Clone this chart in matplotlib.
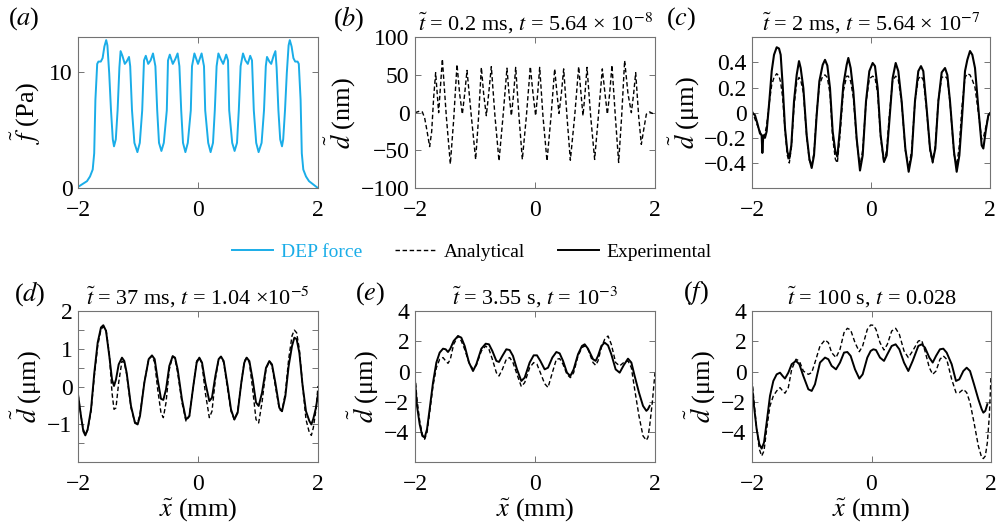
import numpy as np
import matplotlib
matplotlib.use('Agg')
import matplotlib.pyplot as plt
from matplotlib.lines import Line2D

plt.rcParams['font.family'] = ['Liberation Serif', 'DejaVu Serif']
plt.rcParams['mathtext.fontset'] = 'stix'
plt.rcParams['font.size'] = 14

nan = np.nan

# ---------------------------------------------------------------- data
# (a) DEP force, Pa
x_a = [-2.0, -1.85, -1.80, -1.755, -1.73, -1.71, -1.68, -1.66, -1.62, -1.59,
       -1.56, -1.53, -1.51, -1.48, -1.45, -1.42, -1.40, -1.37, -1.34, -1.31,
       -1.29, -1.26, -1.22, -1.19, -1.15, -1.13, -1.10, -1.06, -1.01, -0.97,
       -0.93, -0.90, -0.87, -0.83, -0.79, -0.75, -0.71, -0.68, -0.65, -0.61,
       -0.57, -0.52, -0.50, -0.47, -0.42, -0.38, -0.34, -0.31, -0.28, -0.25,
       -0.21, -0.17, -0.12, -0.10, -0.06, 0.0, 0.06, 0.10, 0.12, 0.17,
       0.21, 0.25, 0.28, 0.31, 0.34, 0.38, 0.42, 0.47, 0.50, 0.52,
       0.57, 0.61, 0.65, 0.68, 0.71, 0.75, 0.79, 0.83, 0.87, 0.90,
       0.93, 0.97, 1.01, 1.06, 1.10, 1.13, 1.15, 1.19, 1.22, 1.26,
       1.29, 1.31, 1.34, 1.37, 1.40, 1.42, 1.45, 1.48, 1.51, 1.53,
       1.56, 1.59, 1.62, 1.66, 1.68, 1.71, 1.73, 1.755, 1.80, 1.85, 2.0]
f_dep = [0.1, 0.6, 1.0, 1.6, 3.0, 7.6, 10.7, 10.9, 10.9, 11.2,
         12.2, 12.75, 12.3, 9.9, 6.7, 4.2, 3.6, 4.2, 6.7, 10.4,
         11.8, 11.4, 10.7, 10.9, 11.3, 10.5, 6.7, 3.9, 3.1, 3.9,
         6.7, 11.0, 11.4, 10.7, 11.0, 11.6, 10.5, 6.7, 3.9, 3.2,
         3.9, 6.7, 11.0, 11.5, 10.7, 11.1, 11.6, 10.5, 6.7, 3.9,
         3.1, 3.9, 6.7, 10.5, 11.6, 10.7, 11.6, 10.5, 6.7, 3.9,
         3.1, 3.9, 6.7, 10.5, 11.6, 11.1, 10.7, 11.5, 11.0, 6.7,
         3.9, 3.2, 3.9, 6.7, 10.5, 11.6, 11.0, 10.7, 11.4, 11.0,
         6.7, 3.9, 3.1, 3.9, 6.7, 10.5, 11.3, 10.9, 10.7, 11.4,
         11.8, 10.4, 6.7, 4.2, 3.6, 4.2, 6.7, 9.9, 12.3, 12.75,
         12.2, 11.2, 10.9, 10.9, 10.7, 7.6, 3.0, 1.6, 1.0, 0.6, 0.0]

# (b) analytical, nm
x_b = [-2.000, -1.922, -1.878, -1.839, -1.800, -1.756, -1.722, -1.689, -1.656, -1.606,
       -1.544, -1.478, -1.411, -1.356, -1.300, -1.256, -1.211, -1.172, -1.133, -1.061,
       -0.989, -0.944, -0.894, -0.856, -0.811, -0.772, -0.728, -0.667, -0.600, -0.533,
       -0.467, -0.433, -0.394, -0.356, -0.322, -0.267, -0.211, -0.144, -0.078, -0.033,
       0.011, 0.044, 0.078, 0.133, 0.200, 0.267, 0.328, 0.367, 0.400, 0.439,
       0.478, 0.533, 0.589, 0.661, 0.728, 0.767, 0.800, 0.833, 0.867, 0.928,
       0.994, 1.056, 1.122, 1.167, 1.206, 1.244, 1.283, 1.339, 1.394, 1.444,
       1.494, 1.550, 1.606, 1.644, 1.678, 1.728, 1.772, 1.817, 1.856, 1.911,
       1.956, 2.000]
d_b_ana = [0, 2, 1, -7, -24, -45, -25, 20, 53, 0,
           71, -5, -68, -10, 64, 25, -2, 25, 56, -5,
           -62, -10, 60, 25, -4, 25, 61, -5, -64, -5,
           59, 25, -4, 25, 60, -5, -62, -5, 61, 25,
           -4, 25, 60, -5, -64, -5, 58, 25, -1, 25,
           58, -5, -63, -5, 61, 25, -4, 25, 60, -5,
           -62, -5, 58, 25, -2, 25, 63, -5, -66, -5,
           69, 25, 0, 25, 53, -5, -42, -20, -2, 1,
           -1, 0]

# (c) um
x_c = [-2.000, -1.950, -1.910, -1.866, -1.838, -1.826, -1.810, -1.782, -1.754, -1.709,
       -1.669, -1.630, -1.585, -1.546, -1.518, -1.485, -1.445, -1.406, -1.373, -1.339,
       -1.294, -1.249, -1.210, -1.182, -1.137, -1.081, -1.036, -0.997, -0.958, -0.913,
       -0.868, -0.812, -0.773, -0.734, -0.689, -0.644, -0.599, -0.566, -0.521, -0.465,
       -0.409, -0.381, -0.342, -0.297, -0.241, -0.185, -0.140, -0.084, -0.028, 0.028,
       0.067, 0.112, 0.162, 0.218, 0.263, 0.308, 0.364, 0.415, 0.459, 0.515,
       0.577, 0.633, 0.683, 0.739, 0.795, 0.840, 0.879, 0.935, 0.992, 1.036,
       1.081, 1.132, 1.188, 1.244, 1.283, 1.328, 1.395, 1.440, 1.485, 1.529,
       1.580, 1.619, 1.664, 1.703, 1.748, 1.804, 1.860, 1.888, 1.927, 1.972,
       2.000]
d_c_exp = [0.00, -0.02, -0.085, -0.165, -0.18, -0.32, -0.18, -0.20, -0.15, 0.09,
           0.33, 0.46, 0.52, 0.51, 0.46, 0.22, -0.125, -0.31, -0.365, -0.26,
           0.09, 0.30, 0.41, 0.355, 0.195, -0.18, -0.365, -0.44, -0.34, -0.02,
           0.25, 0.38, 0.42, 0.375, 0.195, -0.15, -0.31, -0.35, -0.125, 0.22,
           0.38, 0.435, 0.355, 0.17, -0.205, -0.46, -0.34, 0.09, 0.33, 0.395,
           0.37, 0.195, -0.18, -0.39, -0.34, -0.07, 0.275, 0.395, 0.33, 0.09,
           -0.285, -0.47, -0.34, 0.09, 0.33, 0.37, 0.33, 0.035, -0.285, -0.39,
           -0.285, 0.09, 0.32, 0.355, 0.30, 0.09, -0.31, -0.47, -0.34, -0.045,
           0.33, 0.42, 0.49, 0.46, 0.355, 0.035, -0.26, -0.285, -0.15, -0.02,
           -0.005]
d_c_ana = [0.02, -0.05, -0.10, -0.15, -0.18, -0.19, -0.19, -0.17, -0.10, 0.08,
           0.22, 0.28, 0.31, 0.29, 0.24, 0.12, -0.14, -0.34, -0.40, -0.28,
           0.05, 0.24, 0.28, 0.26, 0.16, -0.19, -0.38, -0.42, -0.32, 0.00,
           0.22, 0.29, 0.30, 0.28, 0.15, -0.20, -0.37, -0.40, -0.18, 0.17,
           0.29, 0.29, 0.25, 0.12, -0.22, -0.43, -0.30, 0.08, 0.27, 0.29,
           0.28, 0.15, -0.20, -0.40, -0.30, -0.02, 0.26, 0.29, 0.26, 0.08,
           -0.30, -0.44, -0.30, 0.09, 0.27, 0.29, 0.26, 0.02, -0.30, -0.40,
           -0.26, 0.10, 0.28, 0.29, 0.27, 0.08, -0.33, -0.42, -0.26, 0.05,
           0.28, 0.31, 0.30, 0.26, 0.20, 0.00, -0.21, -0.20, -0.12, -0.03,
           0.00]

# (d) um
x_d = [-2.000, -1.950, -1.911, -1.878, -1.839, -1.783, -1.728, -1.672, -1.617, -1.578,
       -1.533, -1.478, -1.433, -1.400, -1.367, -1.322, -1.267, -1.228, -1.189, -1.117,
       -1.050, -1.006, -0.967, -0.894, -0.822, -0.767, -0.722, -0.672, -0.617, -0.578,
       -0.533, -0.478, -0.422, -0.383, -0.339, -0.267, -0.200, -0.144, -0.078, -0.022,
       0.022, 0.067, 0.122, 0.189, 0.233, 0.289, 0.344, 0.383, 0.428, 0.494,
       0.550, 0.606, 0.661, 0.722, 0.772, 0.811, 0.856, 0.911, 0.967, 1.011,
       1.067, 1.133, 1.189, 1.233, 1.289, 1.356, 1.400, 1.456, 1.511, 1.567,
       1.606, 1.644, 1.689, 1.744, 1.800, 1.856, 1.889, 1.922, 1.967, 2.000]
d_d_exp = [-0.20, -0.78, -1.18, -1.29, -1.13, -0.60, 0.37, 1.17, 1.57, 1.63,
           1.48, 0.81, 0.19, 0.02, 0.19, 0.59, 0.77, 0.68, 0.37, -0.51,
           -0.96, -1.00, -0.78, 0.11, 0.73, 0.83, 0.73, 0.19, -0.32, -0.35,
           -0.07, 0.55, 0.81, 0.77, 0.46, -0.34, -0.87, -0.78, 0.02, 0.64,
           0.77, 0.64, 0.11, -0.38, -0.29, 0.28, 0.73, 0.80, 0.68, 0.02,
           -0.60, -0.87, -0.69, 0.11, 0.64, 0.77, 0.68, 0.19, -0.42, -0.51,
           -0.16, 0.50, 0.68, 0.59, 0.11, -0.56, -0.65, -0.25, 0.55, 1.08,
           1.30, 1.26, 0.90, 0.02, -0.65, -0.91, -1.00, -0.85, -0.55, -0.20]
d_d_ana = [-0.20, -0.78, -1.13, -1.27, -1.15, -0.65, 0.28, 1.08, 1.52, 1.59,
           1.52, 0.86, -0.16, -0.60, -0.56, 0.11, 0.68, 0.64, 0.33, -0.56,
           -0.96, -0.96, -0.73, 0.11, 0.74, 0.81, 0.64, -0.07, -0.69, -0.82,
           -0.42, 0.46, 0.81, 0.74, 0.37, -0.42, -0.91, -0.78, 0.02, 0.68,
           0.77, 0.59, -0.16, -0.82, -0.65, 0.19, 0.73, 0.80, 0.64, -0.07,
           -0.65, -0.87, -0.65, 0.11, 0.68, 0.77, 0.64, -0.07, -0.87, -0.96,
           -0.42, 0.46, 0.68, 0.55, 0.02, -0.60, -0.65, -0.16, 0.73, 1.35,
           1.50, 1.43, 0.99, 0.02, -0.87, -1.22, -1.29, -1.09, -0.60, 0.02]

# (e) um
x_e = [-2.000, -1.967, -1.922, -1.878, -1.839, -1.800, -1.756, -1.700, -1.644, -1.589,
       -1.533, -1.489, -1.450, -1.411, -1.356, -1.283, -1.228, -1.172, -1.100, -1.033,
       -0.978, -0.894, -0.822, -0.767, -0.711, -0.644, -0.600, -0.544, -0.478, -0.422,
       -0.367, -0.300, -0.228, -0.172, -0.089, -0.022, 0.033, 0.089, 0.161, 0.217,
       0.289, 0.356, 0.411, 0.467, 0.533, 0.589, 0.644, 0.717, 0.783, 0.828,
       0.883, 0.967, 1.011, 1.050, 1.106, 1.161, 1.217, 1.272, 1.344, 1.411,
       1.478, 1.550, 1.606, 1.661, 1.733, 1.800, 1.856, 1.883, 1.911, 1.956,
       2.000]
d_e_exp = [-0.60, -2.27, -3.49, -4.26, -4.37, -3.82, -2.49, -0.73, 0.60, 1.26,
           1.52, 1.48, 1.30, 1.52, 2.03, 2.36, 2.25, 1.70, 0.60, 0.04,
           0.49, 1.52, 1.85, 1.81, 1.37, 0.71, 0.64, 1.04, 1.48, 1.43,
           1.04, 0.15, -0.62, -0.40, 0.60, 1.08, 1.08, 0.71, 0.15, 0.26,
           0.93, 1.30, 1.21, 0.71, -0.07, -0.29, 0.15, 1.15, 1.70, 1.81,
           1.52, 0.82, 0.71, 1.04, 1.70, 1.92, 1.74, 1.15, 0.15, -0.07,
           0.42, 0.86, 0.60, -0.29, -1.39, -2.27, -2.60, -2.49, -2.27, nan,
           nan]
d_e_ana = [-0.29, -1.83, -3.27, -4.15, -4.48, -4.04, -2.72, -0.95, 0.26, 0.82,
           0.93, 0.71, 0.55, 0.82, 1.81, 2.36, 2.03, 1.48, 0.60, 0.15,
           0.42, 1.37, 1.70, 1.48, 0.82, -0.07, -0.29, 0.15, 0.82, 0.93,
           0.60, -0.18, -0.99, -0.73, 0.26, 0.60, 0.49, -0.07, -0.80, -1.05,
           -0.07, 0.82, 0.86, 0.49, -0.18, -0.40, -0.07, 1.04, 1.59, 1.70,
           1.48, 0.60, 0.42, 0.71, 1.59, 2.14, 2.36, 1.81, 0.60, 0.38,
           0.60, 0.71, 0.26, -1.17, -2.94, -4.26, -4.55, -4.35, -3.60, -2.00,
           -0.07]

# (f) um
x_f = [-2.000, -1.967, -1.922, -1.877, -1.838, -1.799, -1.755, -1.699, -1.643, -1.587,
       -1.531, -1.487, -1.448, -1.392, -1.336, -1.264, -1.208, -1.141, -1.057, -1.001,
       -0.946, -0.862, -0.778, -0.722, -0.667, -0.594, -0.527, -0.460, -0.404, -0.349,
       -0.276, -0.204, -0.148, -0.070, -0.014, 0.031, 0.075, 0.142, 0.209, 0.265,
       0.338, 0.404, 0.466, 0.544, 0.616, 0.689, 0.784, 0.840, 0.895, 0.968,
       1.024, 1.080, 1.146, 1.202, 1.258, 1.342, 1.414, 1.470, 1.537, 1.593,
       1.649, 1.716, 1.788, 1.844, 1.872, 1.905, 1.939, 1.972, 2.000]
d_f_exp = [-0.95, -2.27, -3.82, -4.81, -5.10, -4.70, -3.38, -1.61, -0.62, -0.18,
           -0.07, -0.29, -0.46, -0.07, 0.49, 0.71, 0.49, -0.29, -1.17, -1.28,
           -0.84, 0.60, 0.93, 0.82, 0.38, 0.15, 0.60, 1.26, 1.30, 1.04,
           0.15, -0.46, -0.18, 0.93, 1.37, 1.48, 1.43, 0.93, 0.71, 1.15,
           1.70, 1.81, 1.48, 0.60, 0.04, 0.71, 1.70, 1.81, 1.59, 0.93,
           0.60, 1.04, 1.48, 1.52, 1.26, 0.49, -0.62, -0.51, 0.04, 0.26,
           0.04, -0.84, -1.83, -2.49, -2.72, -2.60, -2.16, nan, nan]
d_f_ana = [-0.51, -1.94, -3.82, -5.14, -5.59, -5.25, -3.82, -2.27, -1.61, -1.28,
           -1.06, -1.28, -1.43, -1.06, 0.15, 0.82, 0.71, 0.04, -0.18, -0.07,
           0.60, 1.70, 2.10, 1.92, 1.26, 0.93, 1.48, 2.58, 2.87, 2.76,
           1.92, 1.32, 1.70, 2.80, 3.09, 3.07, 2.80, 1.92, 1.43, 1.81,
           2.69, 2.87, 2.47, 1.37, 0.93, 1.37, 2.03, 2.08, 1.37, 0.26,
           -0.18, 0.04, 0.82, 1.04, 0.82, -0.51, -1.39, -1.39, -1.17, -1.39,
           -2.05, -3.38, -4.92, -5.70, -5.76, -5.59, -4.70, -2.94, -0.29]

titles = [None,
          r'$\tilde{t}$ = 0.2 ms, $t$ = 5.64 × 10$^{-8}$',
          r'$\tilde{t}$ = 2 ms, $t$ = 5.64 × 10$^{-7}$',
          r'$\tilde{t}$ = 37 ms, $t$ = 1.04 ×10$^{-5}$',
          r'$\tilde{t}$ = 3.55 s, $t$ = 10$^{-3}$',
          r'$\tilde{t}$ = 100 s, $t$ = 0.028']
tags = ['a', 'b', 'c', 'd', 'e', 'f']

# ---------------------------------------------------------------- style
DEP_BLUE = '#1AADE8'
SPINE = '0.45'
DASH = (0, (3.2, 1.9))
TICK_FS = 17
LABEL_FS = 19

fig = plt.figure(figsize=(10, 5.24), dpi=100)

boxes = [(0.078, 0.641, 0.240, 0.288), (0.415, 0.641, 0.240, 0.288), (0.752, 0.641, 0.238, 0.288),
         (0.078, 0.118, 0.240, 0.288), (0.415, 0.118, 0.240, 0.288), (0.752, 0.118, 0.239, 0.288)]
axs = [fig.add_axes(b) for b in boxes]

for ax in axs:
    ax.set_xlim(-2, 2)
    ax.set_xticks([-2, 0, 2])
    ax.tick_params(direction='in', top=True, right=True, length=4, width=0.7,
                   color=SPINE, labelsize=TICK_FS)
    ax.tick_params(axis='y', pad=4)
    ax.tick_params(axis='x', pad=8.5)
    ax.tick_params(which='minor', direction='in', top=True, right=True,
                   length=4, width=0.7, color=SPINE)
    for s in ax.spines.values():
        s.set_color(SPINE)
        s.set_linewidth(0.8)

# (a)
axs[0].plot(x_a, f_dep, color=DEP_BLUE, lw=1.4)
axs[0].set_ylim(0, 13)
axs[0].set_yticks([0, 10])
axs[0].set_ylabel(r'$\tilde{f}$ (Pa)', fontsize=LABEL_FS, labelpad=4)

# (b)
axs[1].plot(x_b, d_b_ana, color='k', lw=1.0, ls=DASH)
axs[1].set_ylim(-100, 100)
axs[1].set_yticks([-100, -50, 0, 50, 100])
axs[1].set_ylabel(r'$\tilde{d}$ (nm)', fontsize=LABEL_FS, labelpad=2)

# (c)
axs[2].plot(x_c, d_c_ana, color='k', lw=1.0, ls=DASH)
axs[2].plot(x_c, d_c_exp, color='k', lw=1.5)
axs[2].set_ylim(-0.6, 0.6)
axs[2].set_yticks([-0.4, -0.2, 0, 0.2, 0.4])
axs[2].set_yticklabels(['\u22120.4', '\u22120.2', '0', '0.2', '0.4'])
axs[2].set_ylabel(r'$\tilde{d}$ (μm)', fontsize=LABEL_FS, labelpad=1)

# (d)
axs[3].plot(x_d, d_d_ana, color='k', lw=1.0, ls=DASH)
axs[3].plot(x_d, d_d_exp, color='k', lw=1.4)
axs[3].set_ylim(-2, 2)
axs[3].set_yticks([-1, 0, 1, 2])
axs[3].set_yticks([-1.5, -0.5, 0.5, 1.5], minor=True)

# (e)
axs[4].plot(x_e, d_e_ana, color='k', lw=1.0, ls=DASH)
axs[4].plot(x_e, d_e_exp, color='k', lw=1.4)

# (f)
axs[5].plot(x_f, d_f_ana, color='k', lw=1.0, ls=DASH)
axs[5].plot(x_f, d_f_exp, color='k', lw=1.4)

for ax in axs[4:]:
    ax.set_ylim(-6, 4)
    ax.set_yticks([-4, -2, 0, 2, 4])

for ax in axs[3:]:
    ax.set_ylabel(r'$\tilde{d}$ (μm)', fontsize=LABEL_FS, labelpad=2)
    ax.set_xlabel(r'$\tilde{x}$ (mm)', fontsize=LABEL_FS, labelpad=1)

for ax, t in zip(axs, titles):
    if t:
        ax.set_title(t, fontsize=16, pad=5)

# panel tags
tag_pos = [(0.008, 0.965), (0.333, 0.965), (0.666, 0.965),
           (0.014, 0.440), (0.355, 0.440), (0.683, 0.440)]
for tag, (px, py) in zip(tags, tag_pos):
    fig.text(px, py, '($' + tag + '$)', fontsize=19, ha='left', va='center')

# legend
handles = [Line2D([], [], color=DEP_BLUE, lw=1.4),
           Line2D([], [], color='k', lw=1.0, ls=DASH),
           Line2D([], [], color='k', lw=1.4)]
leg = fig.legend(handles, ['DEP force', 'Analytical', 'Experimental'],
                 loc='center', bbox_to_anchor=(0.472, 0.519), ncol=3,
                 frameon=False, fontsize=14, handlelength=2.1,
                 handletextpad=0.4, columnspacing=1.7)
leg.get_texts()[0].set_color(DEP_BLUE)

fig.savefig('out.png', dpi=100)
plt.close(fig)
